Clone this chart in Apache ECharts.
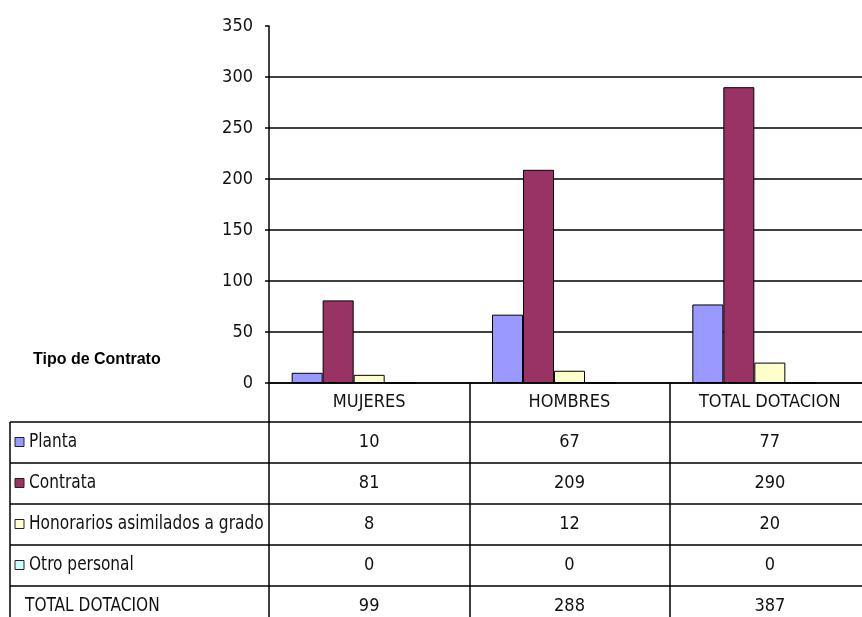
<!DOCTYPE html>
<html><head><meta charset="utf-8">
<script src="https://cdn.jsdelivr.net/npm/echarts@6/dist/echarts.min.js"></script>
<style>html,body{margin:0;padding:0;background:#fff;overflow:hidden}#c{width:870px;height:617px}</style>
</head><body><div id="c"></div>
<script>
const categories = ['MUJERES', 'HOMBRES', 'TOTAL DOTACION'];
const planta = [10, 67, 77];
const contrata = [81, 209, 290];
const honorarios = [8, 12, 20];
const otroPersonal = [0, 0, 0];
const totalDotacion = [99, 288, 387];
const rowNames = ['Planta', 'Contrata', 'Honorarios asimilados a grado', 'Otro personal', 'TOTAL DOTACION'];
const rowColors = ['#9999FF', '#993366', '#FFFFCC', '#CCFFFF', null];
const rows = [planta, contrata, honorarios, otroPersonal, totalDotacion];
const yMin = 0, yMax = 350, yInterval = 50;
const tableTitle = 'Tipo de Contrato';

const NARROW = "'Liberation Sans Narrow','DejaVu Sans Condensed','Arial Narrow',sans-serif";
const gridLeft = 269, gridTop = 26, gridBottomY = 383, H = 617;
const headerH = 39, rowH = 41;
const tableLeft = 10;

const chart = echarts.init(document.getElementById('c'), null, {renderer: 'canvas'});

const xAxes = [{
  type: 'category', data: categories, position: 'bottom', gridIndex: 0,
  axisLine: {show: true, lineStyle: {color: '#000', width: 1.5}},
  axisTick: {show: true, alignWithLabel: false, length: H - gridBottomY, lineStyle: {color: '#000', width: 1.5}},
  axisLabel: {interval: 0, color: '#111', fontFamily: NARROW, fontSize: 18, verticalAlign: 'middle', margin: headerH / 2},
  splitLine: {show: false}
}];
rows.forEach((r, i) => {
  xAxes.push({
    type: 'category', data: categories, position: 'bottom', gridIndex: 0,
    offset: headerH + rowH * i,
    axisLine: {show: true, lineStyle: {color: '#000', width: 1.5}},
    axisTick: {show: false},
    axisLabel: {interval: 0, color: '#111', fontFamily: NARROW, fontSize: 18, verticalAlign: 'middle', margin: rowH / 2,
      formatter: (v, idx) => String(r[idx])},
    splitLine: {show: false}
  });
});

const splitColors = [];
for (let v = yMin; v <= yMax; v += yInterval) splitColors.push(v === yMax ? 'rgba(0,0,0,0)' : '#000');

const series = rows.map((r, i) => ({
  name: rowNames[i], type: 'bar', data: r, xAxisIndex: 0, yAxisIndex: 0,
  barWidth: 31, barGap: '0%', clip: true, silent: true,
  itemStyle: rowColors[i] ? {color: rowColors[i], borderColor: '#000', borderWidth: 1}
                          : {color: 'rgba(0,0,0,0)', borderWidth: 0}
}));

const graphic = [];
const firstLineY = gridBottomY + headerH;
for (let i = 0; i < rows.length; i++) {
  const y = firstLineY + rowH * i;
  graphic.push({type: 'line', silent: true, shape: {x1: tableLeft, y1: y, x2: gridLeft, y2: y}, style: {stroke: '#000', lineWidth: 1.5}});
  const cy = y + rowH / 2;
  let tx = 25;
  if (rowColors[i]) {
    graphic.push({type: 'rect', silent: true, shape: {x: 15, y: cy - 5, width: 9, height: 9}, style: {fill: rowColors[i], stroke: '#222', lineWidth: 1}});
    tx = 29;
  }
  graphic.push({type: 'text', silent: true, x: tx, y: cy, scaleX: 0.9, style: {text: rowNames[i], fill: '#111', font: '19px ' + NARROW, textVerticalAlign: 'middle'}});
}
graphic.push({type: 'line', silent: true, shape: {x1: tableLeft, y1: firstLineY, x2: tableLeft, y2: H}, style: {stroke: '#000', lineWidth: 1.5}});
graphic.push({type: 'text', silent: true, x: 33, y: 360, style: {text: tableTitle, fill: '#000', font: 'bold 16px "Liberation Sans", Arial, sans-serif', textVerticalAlign: 'middle'}});

chart.setOption({
  backgroundColor: '#fff',
  animation: false,
  grid: {left: gridLeft, top: gridTop, right: 0, bottom: H - gridBottomY, containLabel: false},
  xAxis: xAxes,
  yAxis: {
    type: 'value', min: yMin, max: yMax, interval: yInterval,
    axisLine: {show: true, lineStyle: {color: '#000', width: 1.5}},
    axisTick: {show: true, length: 4, lineStyle: {color: '#000', width: 1.5}},
    axisLabel: {color: '#111', fontFamily: NARROW, fontSize: 18, margin: 16},
    splitLine: {show: true, lineStyle: {color: splitColors, width: 1.5}}
  },
  series: series,
  graphic: graphic
});
</script>
</body></html>
